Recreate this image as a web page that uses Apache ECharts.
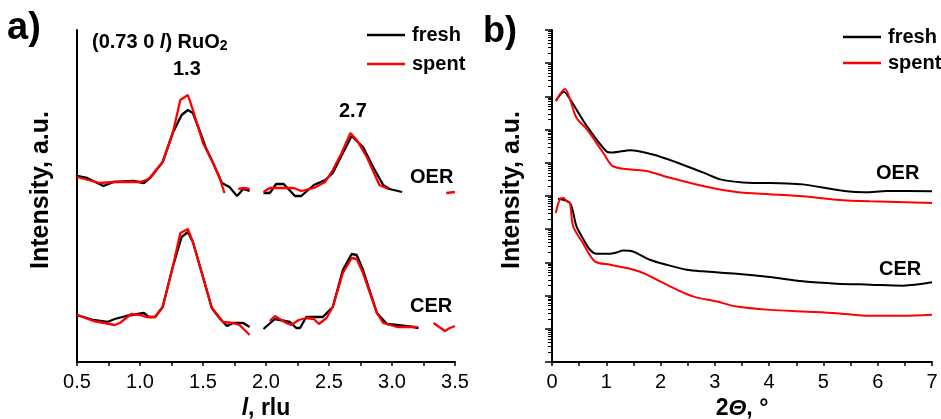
<!DOCTYPE html>
<html><head><meta charset="utf-8">
<script src="https://cdn.jsdelivr.net/npm/echarts@6/dist/echarts.min.js"></script>
<style>html,body{margin:0;padding:0;background:#fff}#c{width:941px;height:419px}</style>
</head><body><div id="c"></div>
<script>
// ---------- Panel a: l-scans (rlu) ----------
const aOerFreshX = [0.50,0.58,0.71,0.79,0.95,1.03,1.08,1.18,1.26,1.33,1.38,1.42,1.48,1.52,1.58,1.65,1.71,1.77,1.82,1.87,1.92,1.98,2.03,2.08,2.14,2.23,2.28,2.38,2.47,2.53,2.61,2.68,2.77,2.85,2.93,2.98,3.08];
const aOerFreshY = [186,184,176,180,181,179,184,200,229,247,252,249,229,215,199,179,175,166,173,171,null,169,169,178,178,166,166,177,182,189,209,226,215,195,177,173,170];
const aOerSpentX = [0.50,0.68,0.79,1.00,1.07,1.18,1.26,1.32,1.38,1.42,1.50,1.58,1.63,1.67,1.72,1.78,1.82,1.87,1.92,1.98,2.03,2.16,2.22,2.28,2.38,2.47,2.53,2.60,2.67,2.72,2.80,2.90,2.97,3.20,3.43,3.50];
const aOerSpentY = [185,179,180,180,183,200,229,262,267,252,219,199,185,169,null,173,174,173,null,170,174,174,174,171,174,180,192,209,229,222,205,177,173,null,169,170];
const aCerFreshX = [0.50,0.63,0.74,0.80,0.89,1.03,1.07,1.12,1.18,1.26,1.33,1.38,1.42,1.50,1.57,1.63,1.69,1.74,1.82,1.87,1.92,1.98,2.07,2.11,2.19,2.24,2.27,2.32,2.45,2.53,2.61,2.68,2.72,2.77,2.88,2.96,3.04,3.17,3.21];
const aCerFreshY = [47,42,40,43,46,49,45,45,55,95,125,130,120,85,54,44,36,39,39,35,null,33,43,42,40,34,34,45,45,55,92,108,107,92,49,38,37,35,34];
const aCerSpentX = [0.50,0.63,0.76,0.80,0.84,0.93,1.00,1.05,1.12,1.18,1.26,1.32,1.38,1.42,1.50,1.57,1.66,1.74,1.79,1.87,1.95,2.03,2.07,2.16,2.20,2.26,2.32,2.38,2.42,2.48,2.53,2.61,2.68,2.72,2.77,2.88,2.93,3.04,3.20,3.27,3.33,3.42,3.46,3.50];
const aCerSpentY = [47,41,38,37,39,48,47,45,45,55,95,129,133,120,85,54,40,39,37,27,null,41,46,39,37,42,44,43,38,44,55,89,104,103,89,49,39,35,35,null,39,31,34,36];

// ---------- Panel b: 2-theta scans (log10 intensity, decades) ----------
const bOerFreshX = [0.07,0.22,0.33,0.64,1.00,1.12,1.44,1.86,2.30,2.78,3.10,3.52,4.33,4.62,5.43,5.76,6.17,7.00];
const bOerFreshY = [7.86,8.14,7.92,7.11,6.35,6.31,6.38,6.25,6.01,5.71,5.50,5.41,5.38,5.35,5.14,5.11,5.15,5.14];
const bOerSpentX = [0.07,0.24,0.33,0.45,0.64,0.94,1.12,1.44,1.74,2.17,2.78,3.40,4.01,4.62,5.24,5.86,7.00];
const bOerSpentY = [7.86,8.22,7.92,7.36,7.01,6.31,5.90,5.80,5.75,5.55,5.30,5.12,5.05,4.99,4.89,4.84,4.79];
const bCerFreshX = [0.11,0.33,0.45,0.58,0.70,0.82,1.07,1.19,1.31,1.49,1.80,2.11,2.48,2.78,3.40,4.01,4.62,5.24,5.86,6.47,7.00];
const bCerFreshY = [4.92,4.79,4.09,3.69,3.38,3.26,3.26,3.30,3.36,3.33,3.08,2.93,2.78,2.73,2.66,2.56,2.43,2.36,2.33,2.30,2.40];
const bCerSpentX = [0.07,0.15,0.21,0.27,0.33,0.39,0.57,0.79,1.07,1.38,1.68,1.99,2.30,2.61,3.04,3.40,4.01,4.62,5.24,5.86,6.47,7.00];
const bCerSpentY = [4.49,4.92,4.94,4.84,4.79,4.09,3.58,3.03,2.93,2.83,2.68,2.43,2.18,1.97,1.82,1.67,1.57,1.52,1.47,1.39,1.39,1.42];

const aTicks = [0.5,1.0,1.5,2.0,2.5,3.0,3.5];
const bTicks = [0,1,2,3,4,5,6,7];

function pairs(xs, ys){ return xs.map((x,i)=>[x, ys[i]===null ? '-' : ys[i]]); }
const minorLog = [];
for (let n=0;n<10;n++) for (let k=2;k<=9;k++) minorLog.push(n+Math.log10(k));

const FONT = 'Liberation Sans';
const chart = echarts.init(document.getElementById('c'), null, {renderer:'canvas'});
function line(name, color, xi, yi, data, w, smooth){
  return {type:'line', name, xAxisIndex:xi, yAxisIndex:yi, data, symbol:'none', showSymbol:false, smooth: smooth||false,
    connectNulls:false, lineStyle:{color, width:w}, itemStyle:{color}, animation:false, z: color==='#ff0000'?3:2};
}
const nameRich = {rich:{i:{fontStyle:'italic', fontWeight:'bold', fontSize:23, fontFamily:FONT, color:'#000'}, b:{fontWeight:'bold', fontSize:23, fontFamily:FONT, color:'#000'}}};
const legendCommon = {orient:'vertical', icon:'rect', itemWidth:38, itemHeight:2.5, data:['fresh','spent'],
  textStyle:{fontSize:20, fontWeight:'bold', color:'#000', fontFamily:FONT, padding:[0,0,0,2]}, selectedMode:false};
const yNameStyle = {fontWeight:'bold', fontSize:25, fontFamily:FONT, color:'#000', padding:[0,0,0,12]};
const option = {
  animation:false,
  textStyle:{fontFamily:FONT},
  grid:[{left:77, top:30, width:378, height:332, outerBoundsMode:'none', containLabel:false},
        {left:552, top:30, width:380, height:332, outerBoundsMode:'none', containLabel:false}],
  xAxis:[
    {type:'value', gridIndex:0, min:0.5, max:3.5, interval:0.5,
     axisLine:{lineStyle:{color:'#000', width:2}}, axisTick:{length:4, lineStyle:{color:'#000', width:1.5}},
     minorTick:{show:true, splitNumber:2, length:4, lineStyle:{color:'#000', width:1.5}},
     splitLine:{show:false},
     axisLabel:{color:'#000', fontSize:20, fontFamily:FONT, margin:10, formatter:v=>v.toFixed(1)},
     name:'{i|l}{b|, rlu}', nameLocation:'middle', nameGap:34, nameTextStyle:nameRich},
    {type:'value', gridIndex:1, min:0, max:7, interval:1,
     axisLine:{lineStyle:{color:'#000', width:2}}, axisTick:{length:4, lineStyle:{color:'#000', width:1.5}},
     minorTick:{show:true, splitNumber:2, length:4, lineStyle:{color:'#000', width:1.5}},
     splitLine:{show:false},
     axisLabel:{color:'#000', fontSize:20, fontFamily:FONT, margin:10},
     name:'{b|2}{i|Θ}{b|, °}', nameLocation:'middle', nameGap:34, nameTextStyle:nameRich}
  ],
  yAxis:[
    {type:'value', gridIndex:0, min:0, max:332, position:'left',
     axisLine:{show:true, lineStyle:{color:'#000', width:2}}, axisTick:{show:false}, axisLabel:{show:false}, splitLine:{show:false},
     name:'Intensity, a.u.', nameLocation:'middle', nameGap:23, nameTextStyle:yNameStyle},
    {type:'value', gridIndex:1, min:0, max:10, interval:1, position:'left',
     axisLine:{show:true, lineStyle:{color:'#000', width:2}}, axisTick:{show:true, length:7, lineStyle:{color:'#000', width:1.5}},
     axisLabel:{show:false}, splitLine:{show:false},
     name:'Intensity, a.u.', nameLocation:'middle', nameGap:27, nameTextStyle:yNameStyle},
    {type:'value', gridIndex:1, min:0, max:10, position:'left',
     axisLine:{show:false}, axisTick:{show:true, length:4, customValues:minorLog, lineStyle:{color:'#000', width:1}},
     axisLabel:{show:false}, splitLine:{show:false}}
  ],
  legend:[
    Object.assign({left:362, top:20, itemGap:9}, legendCommon),
    Object.assign({left:838, top:22, itemGap:6}, legendCommon)
  ],
  graphic:[
    {type:'text', left:7, top:10, style:{text:'a)', font:'bold 38px "Liberation Sans"', fill:'#000'}},
    {type:'text', left:483, top:14, style:{text:'b)', font:'bold 36px "Liberation Sans"', fill:'#000'}},
    {type:'text', left:92, top:32, style:{text:'{b|(0.73 0 }{i|l}{b|) RuO}{s|2}', rich:{
        b:{font:'bold 20px "Liberation Sans"', fill:'#000'}, i:{font:'italic bold 20px "Liberation Sans"', fill:'#000'},
        s:{font:'bold 14px "Liberation Sans"', fill:'#000', padding:[9,0,0,0]}}}},
    {type:'text', left:173, top:59, style:{text:'1.3', font:'bold 20px "Liberation Sans"', fill:'#000'}},
    {type:'text', left:339, top:101, style:{text:'2.7', font:'bold 20px "Liberation Sans"', fill:'#000'}},
    {type:'text', left:410, top:167, style:{text:'OER', font:'bold 20px "Liberation Sans"', fill:'#000'}},
    {type:'text', left:410, top:296, style:{text:'CER', font:'bold 20px "Liberation Sans"', fill:'#000'}},
    {type:'text', left:876, top:163, style:{text:'OER', font:'bold 20px "Liberation Sans"', fill:'#000'}},
    {type:'text', left:879, top:259, style:{text:'CER', font:'bold 20px "Liberation Sans"', fill:'#000'}}
  ],
  series:[
    line('fresh','#000000',0,0,pairs(aOerFreshX,aOerFreshY),2.3),
    line('spent','#ff0000',0,0,pairs(aOerSpentX,aOerSpentY),2.3),
    line('fresh','#000000',0,0,pairs(aCerFreshX,aCerFreshY),2.3),
    line('spent','#ff0000',0,0,pairs(aCerSpentX,aCerSpentY),2.3),
    line('fresh','#000000',1,1,pairs(bOerFreshX,bOerFreshY),2,0.3),
    line('spent','#ff0000',1,1,pairs(bOerSpentX,bOerSpentY),2,0.3),
    line('fresh','#000000',1,1,pairs(bCerFreshX,bCerFreshY),2,0.3),
    line('spent','#ff0000',1,1,pairs(bCerSpentX,bCerSpentY),2,0.3)
  ]
};
chart.setOption(option);
</script></body></html>
